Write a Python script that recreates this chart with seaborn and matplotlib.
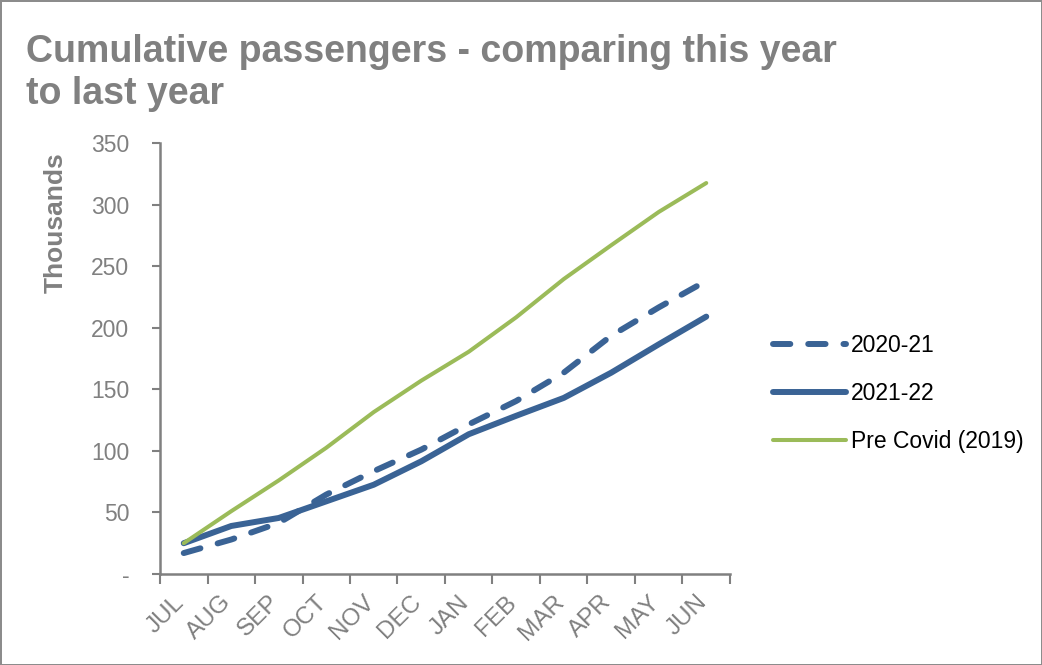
import matplotlib.pyplot as plt
import matplotlib.transforms as mtransforms
import seaborn as sns
import pandas as pd
import numpy as np

months = ['JUL', 'AUG', 'SEP', 'OCT', 'NOV', 'DEC', 'JAN', 'FEB', 'MAR', 'APR', 'MAY', 'JUN']
y2020_21 = [17, 28, 41.5, 64.5, 83.5, 101, 121.5, 140.5, 163.5, 193.5, 216.5, 238]
y2021_22 = [25, 39, 45.5, 59, 72.5, 91.5, 113.5, 128.5, 143, 163.5, 186.5, 209]
pre_covid = [25, 51, 76, 102.5, 131.5, 157, 180.5, 208.5, 239.5, 267, 294, 317.5]

grey = '#808080'
blue = '#3A6395'
green = '#9BBB59'

sns.set_theme(style='white')
plt.rcParams['font.family'] = ['Liberation Sans', 'DejaVu Sans']

fig = plt.figure(figsize=(10.42, 6.65), dpi=100)
fig.patch.set_edgecolor('#8c8c8c')
fig.patch.set_linewidth(2)
ax = fig.add_axes([160 / 1042, 1 - 574 / 665, 570 / 1042, 431 / 665])

x = np.arange(len(months))
df = pd.DataFrame({'x': x, '2020-21': y2020_21, '2021-22': y2021_22, 'Pre Covid (2019)': pre_covid})

sns.lineplot(data=df, x='x', y='2020-21', ax=ax, color=blue, lw=4.3, label='2020-21')
ax.lines[-1].set_dashes((2.9, 3.0))
ax.lines[-1].set_dash_capstyle('round')
sns.lineplot(data=df, x='x', y='2021-22', ax=ax, color=blue, lw=4.3, label='2021-22')
ax.lines[-1].set_solid_capstyle('round')
sns.lineplot(data=df, x='x', y='Pre Covid (2019)', ax=ax, color=green, lw=2.9,
             label='Pre Covid (2019)')
ax.lines[-1].set_solid_capstyle('round')

ax.set_xlim(-0.5, 11.5)
ax.set_ylim(0, 350)
ax.set_yticks(range(0, 351, 50))
ax.set_yticklabels(['-'] + [str(v) for v in range(50, 351, 50)])
ax.set_xticks(np.arange(-0.5, 12, 1))
ax.set_xticklabels([])
ax.set_xticks(x, minor=True)
ax.set_xticklabels(months, minor=True, rotation=45, ha='right', va='center',
                   rotation_mode='anchor')

ax.tick_params(axis='y', which='major', direction='out', length=6, width=1.5, color=grey,
               labelcolor=grey, labelsize=16.5, left=True, pad=16)
ax.tick_params(axis='x', which='major', direction='out', length=7, width=1.5, color=grey,
               bottom=True)
ax.tick_params(axis='x', which='minor', length=0, labelcolor=grey, labelsize=17.5, pad=18)
# nudge month labels slightly left, like the original
shift = mtransforms.ScaledTranslation(-3 / 100, 0, fig.dpi_scale_trans)
for lbl in ax.get_xticklabels(minor=True):
    lbl.set_transform(lbl.get_transform() + shift)

for s in ['top', 'right']:
    ax.spines[s].set_visible(False)
for s in ['left', 'bottom']:
    ax.spines[s].set_color(grey)
    ax.spines[s].set_linewidth(1.8)

ax.set_xlabel('')
ax.set_ylabel('')
fig.text(56 / 1042, 1 - 223 / 665, 'Thousands', rotation=90, color=grey, fontsize=19,
         fontweight='bold', ha='center', va='center')

fig.text(26 / 1042, 1 - 34 / 665, 'Cumulative passengers - comparing this year\nto last year',
         fontsize=27, fontweight='bold', color=grey, ha='left', va='top',
         linespacing=1.2)

ax.legend(loc='upper left', bbox_to_anchor=(757 / 1042, 1 - 318 / 665),
          bbox_transform=fig.transFigure, frameon=False, fontsize=16.5,
          handlelength=3.2, labelspacing=1.1, handletextpad=0.2, borderpad=0.2)
for t in ax.get_legend().get_texts():
    t.set_color('black')

fig.savefig('out.png', dpi=100, edgecolor=fig.get_edgecolor())
